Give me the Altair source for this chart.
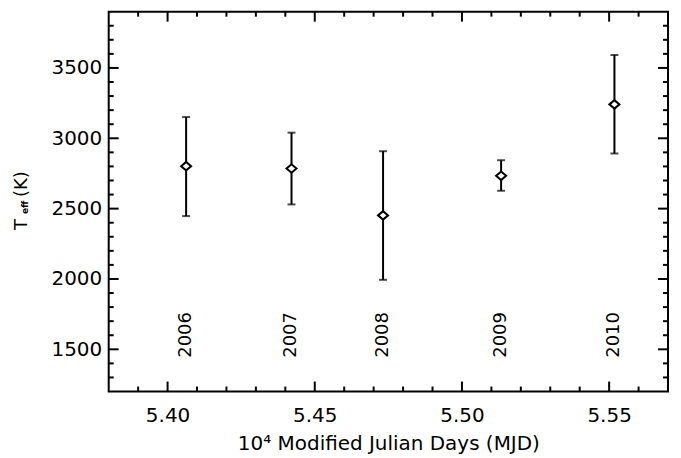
import altair as alt
import pandas as pd

# ---- data ----
mjd = [5.4063, 5.4421, 5.4732, 5.5133, 5.5518]          # 10^4 MJD
teff = [2802, 2785, 2452, 2733, 3241]                   # K
teff_hi = [3151, 3040, 2908, 2844, 3592]
teff_lo = [2447, 2530, 1994, 2627, 2892]
years = ["2006", "2007", "2008", "2009", "2010"]
year_label_y = [1440, 1440, 1440, 1440, 1440]

x_major = [5.40, 5.45, 5.50, 5.55]
x_minor = [5.39, 5.41, 5.42, 5.43, 5.44, 5.46, 5.47, 5.48, 5.49,
           5.51, 5.52, 5.53, 5.54, 5.56]
y_major = [1500, 2000, 2500, 3000, 3500]
y_minor = [1300, 1400, 1600, 1700, 1800, 1900, 2100, 2200, 2300, 2400,
           2600, 2700, 2800, 2900, 3100, 3200, 3300, 3400, 3600, 3700, 3800]

x_title = "10\u2074 Modified Julian Days (MJD)"
y_title_parts = ["T", "eff", "(K)"]

W, H = 561, 381
FONT = "DejaVu Sans"

df = pd.DataFrame({"mjd": mjd, "teff": teff, "hi": teff_hi, "lo": teff_lo,
                   "year": years, "ly": year_label_y})

xs = alt.Scale(domain=[5.38, 5.57], nice=False, zero=False)
ys = alt.Scale(domain=[1200, 3900], nice=False, zero=False)

xaxis = alt.Axis(values=x_major, format=".2f", ticks=False, tickSize=0, domain=False,
                 grid=False, labelPadding=14, title=x_title, titlePadding=8,
                 labelFlush=False)
yaxis = alt.Axis(values=y_major, format="d", ticks=False, tickSize=0, domain=False,
                 grid=False, labelPadding=7, title="", labelFlush=False)


def X(field):
    return alt.X(field, scale=xs, axis=xaxis)


def Y(field):
    return alt.Y(field, scale=ys, axis=yaxis)


base = alt.Chart(df)

errbar = base.mark_rule(color="black", strokeWidth=2).encode(
    x=X("mjd:Q"), y=Y("lo:Q"), y2="hi:Q",
)
cap_hi = base.mark_tick(orient="horizontal", size=8, thickness=2, color="black").encode(
    x=X("mjd:Q"), y=Y("hi:Q"),
)
cap_lo = base.mark_tick(orient="horizontal", size=8, thickness=2, color="black").encode(
    x=X("mjd:Q"), y=Y("lo:Q"),
)
points = base.mark_point(
    shape="M-1,0L0,-0.85L1,0L0,0.85Z", size=100, filled=False,
    color="black", strokeWidth=2, fill="white", fillOpacity=1, opacity=1,
).encode(
    x=X("mjd:Q"), y=Y("teff:Q"),
)
year_text = base.mark_text(angle=270, align="left", baseline="middle",
                           font=FONT, fontSize=18, color="black").encode(
    x=X("mjd:Q"), y=Y("ly:Q"), text="year:N",
)

dxmaj = pd.DataFrame({"v": x_major})
dxmin = pd.DataFrame({"v": x_minor})
dymaj = pd.DataFrame({"v": y_major})
dymin = pd.DataFrame({"v": y_minor})


def xticks(d, length, top):
    if top:
        yy, yy2 = alt.value(0), alt.value(length)
    else:
        yy, yy2 = alt.value(H), alt.value(H - length)
    return alt.Chart(d).mark_rule(color="black", strokeWidth=2).encode(
        x=X("v:Q"), y=yy, y2=yy2)


def yticks(d, length, right):
    if right:
        xx, xx2 = alt.value(W), alt.value(W - length)
    else:
        xx, xx2 = alt.value(0), alt.value(length)
    return alt.Chart(d).mark_rule(color="black", strokeWidth=2).encode(
        y=Y("v:Q"), x=xx, x2=xx2)


ticks = [
    xticks(dxmaj, 10, False), xticks(dxmaj, 10, True),
    xticks(dxmin, 5, False), xticks(dxmin, 5, True),
    yticks(dymaj, 10, False), yticks(dymaj, 10, True),
    yticks(dymin, 5, False), yticks(dymin, 5, True),
]

# y-axis title with subscript, built from text pieces
t_T = alt.Chart(pd.DataFrame({"t": [y_title_parts[0]]})).mark_text(
    angle=270, align="left", baseline="alphabetic", font=FONT, fontSize=18,
    color="black").encode(x=alt.value(-82), y=alt.value(219), text="t:N")
t_eff = alt.Chart(pd.DataFrame({"t": [y_title_parts[1]]})).mark_text(
    angle=270, align="left", baseline="alphabetic", font=FONT, fontSize=9,
    fontWeight="bold", color="black").encode(x=alt.value(-81), y=alt.value(203), text="t:N")
t_K = alt.Chart(pd.DataFrame({"t": [y_title_parts[2]]})).mark_text(
    angle=270, align="left", baseline="alphabetic", font=FONT, fontSize=18,
    color="black").encode(x=alt.value(-82), y=alt.value(186), text="t:N")

chart = alt.layer(
    errbar, cap_hi, cap_lo, points, year_text, *ticks, t_T, t_eff, t_K
).properties(
    width=W, height=H,
    autosize=alt.AutoSizeParams(type="none"),
    padding={"left": 101, "top": 3, "right": 5, "bottom": 66},
    background="white",
).configure_view(
    stroke="black", strokeWidth=2,
).configure_axis(
    labelFont=FONT, labelFontSize=20, labelColor="black",
    titleFont=FONT, titleFontSize=20, titleColor="black", titleFontWeight="normal",
)

chart.save("out.html", embed_options={"renderer": "svg", "actions": False})
